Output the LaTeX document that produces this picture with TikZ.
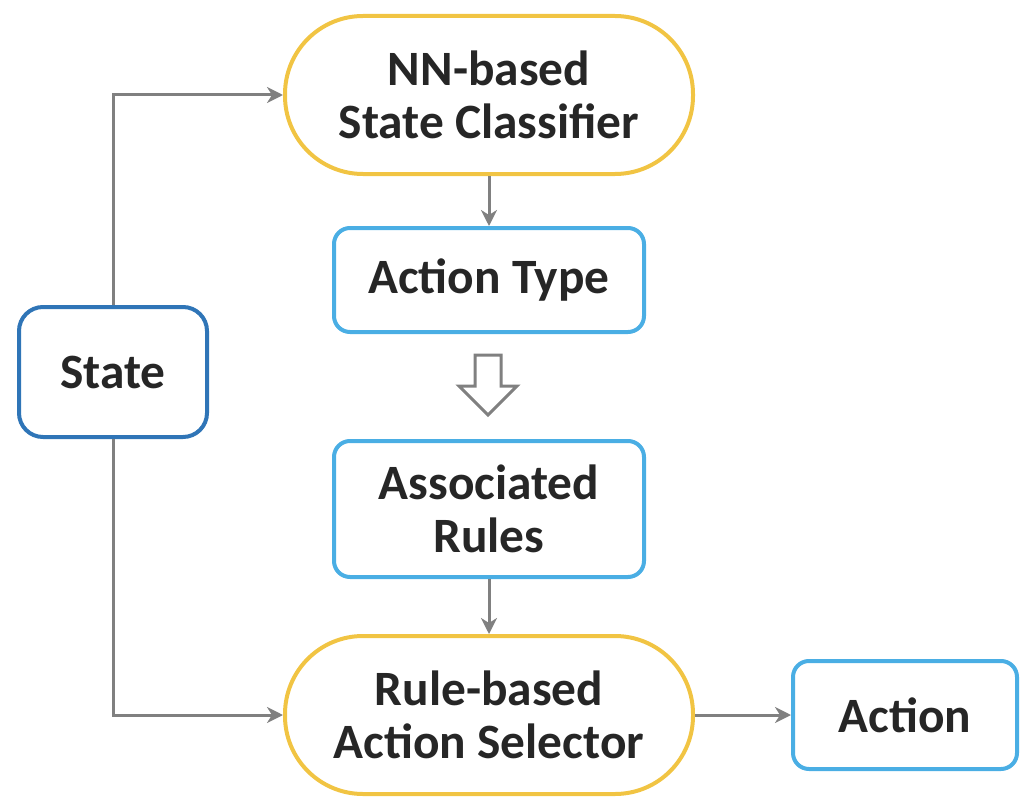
\documentclass[tikz,border=0pt]{standalone}
\usepackage{fontspec}
\setmainfont{Carlito}
\usetikzlibrary{arrows.meta}

\definecolor{railgold}{HTML}{F1C443}
\definecolor{boxblue}{HTML}{4AAEE4}
\definecolor{stateblue}{HTML}{2F75B7}
\definecolor{wiregray}{HTML}{808080}
\definecolor{inkgray}{HTML}{262626}

\tikzset{
    label text/.style={font=\fontsize{24.7}{26.5}\selectfont\bfseries, text=inkgray, align=center},
    stadium/.style={label text, draw=railgold, line width=2pt, rounded corners=39pt,
        minimum width=204pt, minimum height=79pt},
    bluebox/.style={label text, draw=boxblue, line width=2pt, rounded corners=8pt},
    statebox/.style={label text, draw=stateblue, line width=2pt, rounded corners=12pt,
        minimum width=94pt, minimum height=65pt},
    wire/.style={draw=wiregray, line width=1.5pt, -{Stealth[length=8pt, width=8pt, inset=2.5pt]}}
}

\begin{document}
\begin{tikzpicture}[x=0.5pt, y=-0.5pt]

    \useasboundingbox (0,0) rectangle (1028,808);

    % --- Nodes ---
    \node[stadium] (classifier) at (489, 95) {NN-based\\State Classifier};
    \node[bluebox, minimum width=155pt, minimum height=52pt] (actype) at (489, 280) {Action Type};
    \node[bluebox, minimum width=155pt, minimum height=68pt] (rules) at (489, 509) {Associated\\Rules};
    \node[stadium] (selector) at (489, 715) {Rule-based\\Action Selector};
    \node[bluebox, minimum width=112pt, minimum height=54pt] (action) at (905, 715) {Action};
    \node[statebox] (state) at (113, 372) {State};

    % --- Connectors ---
    \draw[wire] (state.north) |- (classifier.west);
    \draw[wire] (state.south) |- (selector.west);
    \draw[wire] (classifier.south) -- (actype.north);
    \draw[wire] (rules.south) -- (selector.north);
    \draw[wire] (selector.east) -- (action.west);

    % --- Hollow arrow between type and rules ---
    \coordinate (tip) at (488, 415);
    \draw[wiregray, line width=1.5pt, line join=miter]
        (tip) -- ++(-29,-29) -- ++(16,0) -- ++(0,-31) -- ++(26,0)
        -- ++(0,31) -- ++(16,0) -- cycle;

\end{tikzpicture}
\end{document}
